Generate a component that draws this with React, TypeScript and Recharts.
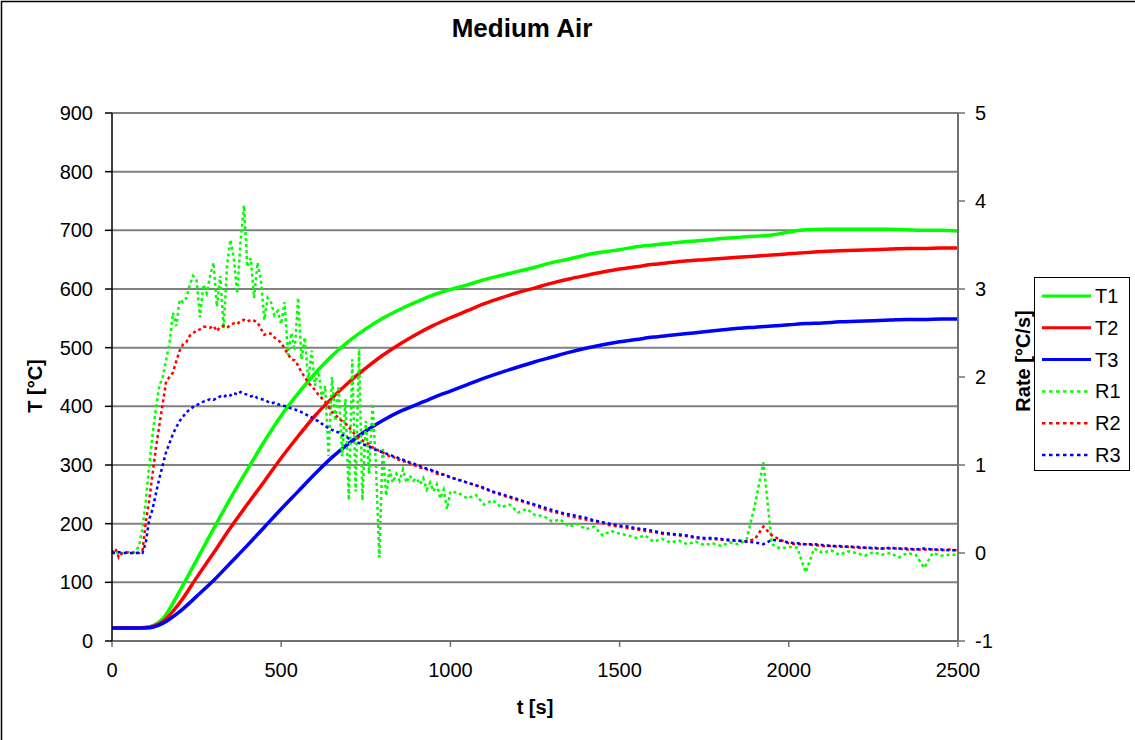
import React from 'react';
import { LineChart, Line, XAxis, YAxis, CartesianGrid } from 'recharts';

// Time grids (categories)
const tempTimes: number[] = Array.from({ length: 51 }, (_, i) => i * 50);
const rateTimes: number[] = [
  ...Array.from({ length: 101 }, (_, i) => i * 10),
  ...Array.from({ length: 60 }, (_, i) => 1025 + i * 25),
];

// Temperatures [°C] at tempTimes
const T1 = [22, 22, 23, 38, 85, 138, 191, 243, 292, 340,
  384, 422, 456, 486, 511, 532, 550, 565, 578, 590,
  599, 607, 616, 623, 630, 637, 645, 651, 658, 663,
  667, 672, 675, 678, 681, 683, 686, 688, 690, 692,
  697, 701, 702, 702, 702, 702, 702, 701, 700, 700,
  699];
const T2 = [22, 22, 23, 33, 65, 108, 150, 193, 233, 272,
  312, 349, 384, 414, 441, 465, 487, 506, 523, 538,
  551, 563, 575, 585, 594, 602, 610, 617, 623, 629,
  634, 638, 642, 645, 648, 650, 652, 654, 656, 658,
  660, 662, 664, 665, 666, 667, 668, 669, 669, 670,
  670];
const T3 = [22, 22, 22, 30, 50, 76, 103, 133, 163, 194,
  225, 255, 285, 313, 337, 358, 376, 391, 403, 415,
  426, 437, 448, 458, 467, 476, 484, 492, 499, 505,
  510, 514, 518, 521, 524, 527, 530, 533, 535, 537,
  539, 541, 542, 544, 545, 546, 547, 548, 548, 549,
  549];

// Rates [°C/s], t = 0..1000 every 10 s
const R1early = [0, 0.03, -0.02, 0, 0, 0.01, 0, 0.02, 0.08, 0.28,
  0.6, 1.0, 1.35, 1.65, 1.9, 2.0, 2.19, 2.39, 2.73, 2.58,
  2.88, 2.85, 2.9, 3.05, 3.15, 3.1, 2.68, 3.05, 2.95, 3.15,
  3.3, 2.8, 3.15, 2.55, 3.27, 3.56, 3.35, 2.95, 3.55, 3.95,
  3.25, 3.35, 2.9, 3.3, 3.1, 2.65, 2.9, 2.85, 2.7, 2.75,
  2.6, 2.85, 2.25, 2.5, 2.3, 2.9, 2.2, 2.45, 1.95, 2.3,
  1.9, 2.1, 1.75, 1.9, 1.1, 2.0, 1.5, 1.9, 1.1, 1.75,
  0.6, 2.2, 0.7, 2.34, 0.6, 1.5, 0.9, 1.7, 1.0, -0.05,
  1.2, 0.65, 0.95, 0.8, 0.9, 0.82, 0.95, 0.8, 0.88, 0.82,
  0.85, 0.78, 0.85, 0.72, 0.8, 0.7, 0.78, 0.62, 0.72, 0.5,
  0.7];
const R2early = [0, 0.05, -0.05, 0, 0.01, 0, 0, 0.01, 0, 0.02,
  0.35, 0.6, 0.9, 1.2, 1.45, 1.7, 1.95, 2.0, 2.05, 2.18,
  2.3, 2.37, 2.4, 2.47, 2.5, 2.53, 2.54, 2.57, 2.57, 2.56,
  2.58, 2.52, 2.57, 2.58, 2.56, 2.59, 2.61, 2.6, 2.64, 2.65,
  2.63, 2.65, 2.64, 2.62, 2.55, 2.48, 2.5, 2.49, 2.45, 2.42,
  2.39, 2.32, 2.26, 2.2, 2.19, 2.13, 2.05, 2.0, 1.93, 1.9,
  1.85, 1.8, 1.76, 1.72, 1.66, 1.6, 1.57, 1.53, 1.5, 1.47,
  1.43, 1.38, 1.34, 1.3, 1.28, 1.25, 1.24, 1.2, 1.18, 1.16,
  1.14, 1.12, 1.1, 1.1, 1.06, 1.06, 1.04, 1.04, 1.02, 1.0,
  0.99, 0.97, 0.97, 0.95, 0.93, 0.93, 0.9, 0.89, 0.89, 0.87,
  0.86];
const R3early = [0, 0, 0.01, 0, 0, 0, 0, 0, 0, 0,
  0.12, 0.38, 0.5, 0.68, 0.85, 1.0, 1.15, 1.25, 1.35, 1.43,
  1.5, 1.55, 1.6, 1.63, 1.66, 1.68, 1.7, 1.72, 1.73, 1.75,
  1.74, 1.76, 1.78, 1.77, 1.8, 1.79, 1.82, 1.8, 1.83, 1.81,
  1.8, 1.78, 1.79, 1.76, 1.75, 1.74, 1.72, 1.7, 1.71, 1.69,
  1.68, 1.67, 1.66, 1.64, 1.63, 1.62, 1.6, 1.58, 1.56, 1.54,
  1.51, 1.5, 1.47, 1.44, 1.42, 1.4, 1.38, 1.37, 1.34, 1.33,
  1.3, 1.29, 1.27, 1.25, 1.24, 1.22, 1.21, 1.19, 1.17, 1.16,
  1.14, 1.13, 1.12, 1.1, 1.09, 1.07, 1.06, 1.04, 1.03, 1.02,
  1.0, 0.99, 0.97, 0.96, 0.95, 0.93, 0.92, 0.9, 0.89, 0.88,
  0.86];

// Rates [°C/s], t = 1025..2500 every 25 s
const R1late = [0.68, 0.62, 0.66, 0.55, 0.6, 0.52, 0.55, 0.46, 0.5, 0.43,
  0.42, 0.36, 0.38, 0.3, 0.33, 0.27, 0.3, 0.2, 0.25, 0.22,
  0.2, 0.17, 0.2, 0.13, 0.16, 0.12, 0.14, 0.1, 0.13, 0.09,
  0.11, 0.08, 0.12, 0.1, 0.15, 0.55, 1.03, 0.1, 0.05, 0.07,
  0.06, -0.22, 0.05, 0.0, 0.03, -0.02, 0.02, 0.0, -0.03, 0.01,
  -0.02, 0.0, -0.05, 0.0, -0.02, -0.17, 0.0, -0.03, -0.02, -0.02];
const R2late = [0.83, 0.8, 0.77, 0.73, 0.69, 0.66, 0.63, 0.6, 0.57, 0.54,
  0.5, 0.47, 0.45, 0.42, 0.4, 0.38, 0.36, 0.34, 0.31, 0.3,
  0.28, 0.27, 0.25, 0.24, 0.22, 0.21, 0.2, 0.19, 0.17, 0.16,
  0.16, 0.15, 0.14, 0.14, 0.13, 0.16, 0.3, 0.2, 0.15, 0.11,
  0.1, 0.1, 0.09, 0.08, 0.08, 0.07, 0.07, 0.06, 0.06, 0.05,
  0.05, 0.05, 0.05, 0.04, 0.04, 0.04, 0.04, 0.03, 0.04, 0.03];
const R3late = [0.83, 0.8, 0.77, 0.74, 0.7, 0.67, 0.64, 0.61, 0.58, 0.55,
  0.52, 0.49, 0.46, 0.44, 0.42, 0.4, 0.37, 0.35, 0.33, 0.31,
  0.3, 0.28, 0.27, 0.25, 0.23, 0.22, 0.21, 0.2, 0.18, 0.17,
  0.17, 0.16, 0.15, 0.14, 0.13, 0.12, 0.1, 0.15, 0.14, 0.12,
  0.11, 0.1, 0.1, 0.09, 0.08, 0.08, 0.07, 0.07, 0.06, 0.06,
  0.05, 0.06, 0.05, 0.05, 0.04, 0.05, 0.04, 0.04, 0.03, 0.03];

const R1 = [...R1early, ...R1late];
const R2 = [...R2early, ...R2late];
const R3 = [...R3early, ...R3late];

const xTicks = [0, 500, 1000, 1500, 2000, 2500];
const tTicks = [0, 100, 200, 300, 400, 500, 600, 700, 800, 900];
const rTicks = [-1, 0, 1, 2, 3, 4, 5];

const legendItems = [
  { name: 'T1', color: '#00FF00', dashed: false },
  { name: 'T2', color: '#FF0000', dashed: false },
  { name: 'T3', color: '#0000FF', dashed: false },
  { name: 'R1', color: '#00FF00', dashed: true },
  { name: 'R2', color: '#FF0000', dashed: true },
  { name: 'R3', color: '#0000FF', dashed: true },
];

const rows = rateTimes.map((t, i) => {
  const row: any = { t, R1: R1[i], R2: R2[i], R3: R3[i] };
  const k = tempTimes.indexOf(t);
  if (k >= 0) {
    row.T1 = T1[k];
    row.T2 = T2[k];
    row.T3 = T3[k];
  }
  return row;
});

const FONT = '"Liberation Sans", Arial, sans-serif';

export default function App() {
  const tickStyle = { fontSize: 20, fill: '#000', fontFamily: FONT };
  return (
    <div style={{ position: 'absolute', left: 0, top: 0, width: 1135, height: 740, background: '#fff', fontFamily: FONT }}>
      <LineChart
        width={1135}
        height={740}
        data={rows}
        margin={{ top: 113, left: 52, right: 117, bottom: 59 }}
        style={{ fontFamily: FONT }}
      >
        <CartesianGrid yAxisId="T" vertical={false} stroke="#808080" strokeWidth={2} />
        <XAxis
          dataKey="t"
          type="number"
          domain={[0, 2500]}
          ticks={xTicks}
          interval={0}
          height={40}
          tickSize={6}
          tickMargin={16}
          tick={tickStyle}
          axisLine={{ stroke: '#707070', strokeWidth: 2 }}
          tickLine={{ stroke: '#707070', strokeWidth: 1.5 }}
        />
        <YAxis
          yAxisId="T"
          orientation="left"
          width={60}
          domain={[0, 900]}
          ticks={tTicks}
          interval={0}
          tickSize={7}
          tickMargin={12}
          tick={tickStyle}
          axisLine={{ stroke: '#000', strokeWidth: 1.5 }}
          tickLine={{ stroke: '#000', strokeWidth: 1.5 }}
        />
        <YAxis
          yAxisId="R"
          orientation="right"
          width={60}
          domain={[-1, 5]}
          ticks={rTicks}
          interval={0}
          tickSize={7}
          tickMargin={10}
          tick={tickStyle}
          axisLine={{ stroke: '#707070', strokeWidth: 2 }}
          tickLine={{ stroke: '#707070', strokeWidth: 1.5 }}
        />
        <Line yAxisId="T" type="monotone" dataKey="T1" stroke="#00FF00" strokeWidth={3.5} dot={false} activeDot={false} connectNulls isAnimationActive={false} />
        <Line yAxisId="T" type="monotone" dataKey="T2" stroke="#FF0000" strokeWidth={3.5} dot={false} activeDot={false} connectNulls isAnimationActive={false} />
        <Line yAxisId="T" type="monotone" dataKey="T3" stroke="#0000FF" strokeWidth={3.5} dot={false} activeDot={false} connectNulls isAnimationActive={false} />
        <Line yAxisId="R" type="linear" dataKey="R1" stroke="#00FF00" strokeWidth={2.5} strokeDasharray="3 3" dot={false} activeDot={false} isAnimationActive={false} />
        <Line yAxisId="R" type="linear" dataKey="R2" stroke="#FF0000" strokeWidth={2.5} strokeDasharray="3 3" dot={false} activeDot={false} isAnimationActive={false} />
        <Line yAxisId="R" type="linear" dataKey="R3" stroke="#0000FF" strokeWidth={2.5} strokeDasharray="3 3" dot={false} activeDot={false} isAnimationActive={false} />
      </LineChart>
      <svg
        width={1135}
        height={740}
        style={{ position: 'absolute', left: 0, top: 0, pointerEvents: 'none' }}
        fontFamily={FONT}
      >
        <path d="M1.5 740 V1.5 H1135" fill="none" stroke="#000" strokeWidth={1.5} />
        <text x={522} y={37} textAnchor="middle" fontSize={26} fontWeight="bold" fill="#000">Medium Air</text>
        <text x={535} y={714} textAnchor="middle" fontSize={20} fontWeight="bold" fill="#000">t [s]</text>
        <text transform="translate(42,386) rotate(-90)" textAnchor="middle" fontSize={20} fontWeight="bold" fill="#000">T [°C]</text>
        <text transform="translate(1030,361) rotate(-90)" textAnchor="middle" fontSize={20} fontWeight="bold" fill="#000">Rate [°C/s]</text>
        <rect x={1034.5} y={277.5} width={95} height={193} fill="#fff" stroke="#000" strokeWidth={1} />
        {legendItems.map((it, i) => {
          const y = 296 + i * 31.8;
          return (
            <g key={it.name}>
              <line
                x1={1042}
                x2={1091}
                y1={y}
                y2={y}
                stroke={it.color}
                strokeWidth={it.dashed ? 2.5 : 3}
                strokeDasharray={it.dashed ? '3.5 3.5' : undefined}
              />
              <text x={1095} y={y + 7} fontSize={20} fill="#000">{it.name}</text>
            </g>
          );
        })}
      </svg>
    </div>
  );
}
